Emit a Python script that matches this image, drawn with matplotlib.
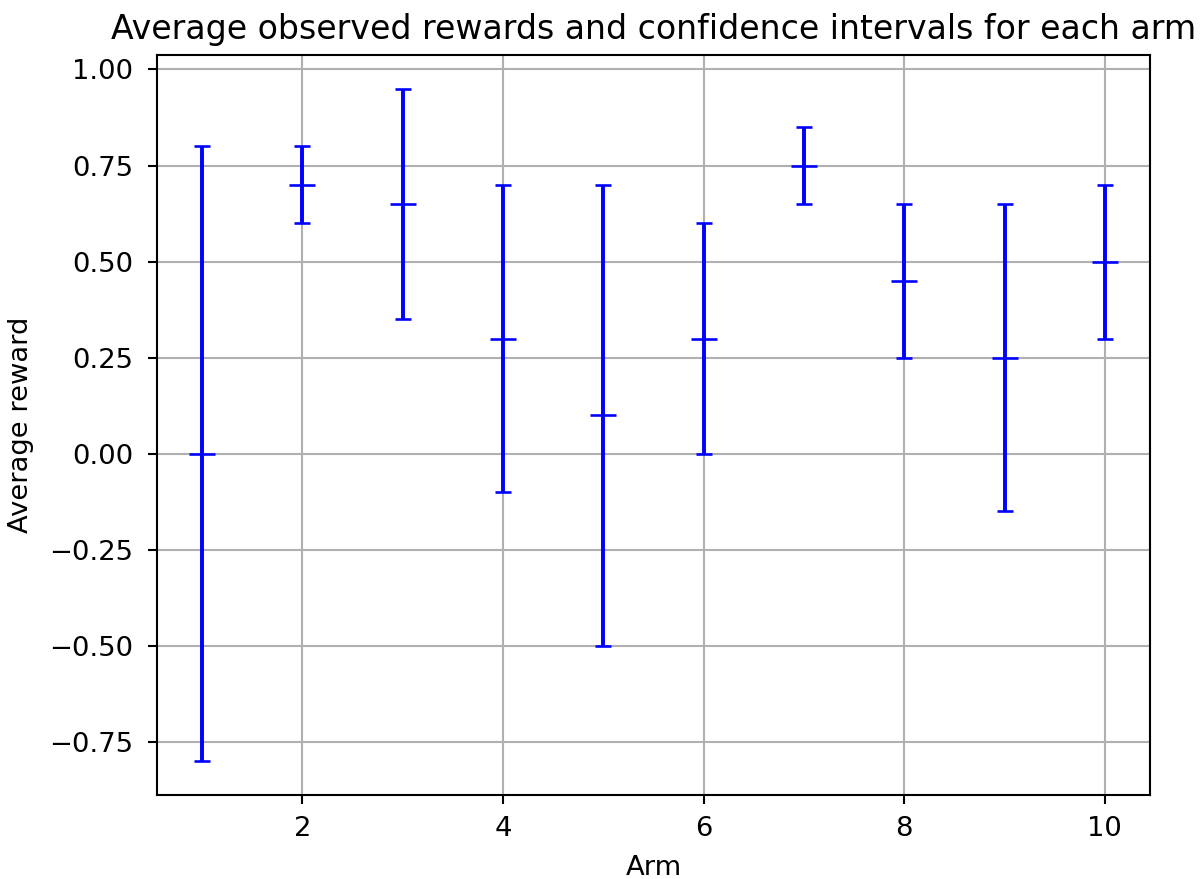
import matplotlib
matplotlib.use("Agg")
import matplotlib.pyplot as plt
import numpy as np

arms = [1, 2, 3, 4, 5, 6, 7, 8, 9, 10]
avg_rewards = [0.0, 0.7, 0.65, 0.3, 0.1, 0.3, 0.75, 0.45, 0.25, 0.5]
lower_bounds = [-0.8, 0.6, 0.35, -0.1, -0.5, 0.0, 0.65, 0.25, -0.15, 0.3]
upper_bounds = [0.8, 0.8, 0.95, 0.7, 0.7, 0.6, 0.85, 0.65, 0.65, 0.7]

plt.rcParams['font.size'] = 10.5

dpi = 188
fig = plt.figure(figsize=(1204 / dpi, 879 / dpi), dpi=dpi)
ax = fig.add_axes([157 / 1204, 1 - 795 / 879, (1150 - 157) / 1204, (795 - 55) / 879])

m = np.array(avg_rewards)
yerr = [m - np.array(lower_bounds), np.array(upper_bounds) - m]
ax.errorbar(arms, avg_rewards, yerr=yerr, fmt='_', color='blue', ecolor='blue',
            markersize=10, capsize=3)
ax.set_title('Average observed rewards and confidence intervals for each arm',
             fontsize=12.7)
ax.set_xlabel('Arm', labelpad=5)
ax.set_ylabel('Average reward', labelpad=6)
ax.tick_params(axis='y', pad=5.5)
ax.tick_params(axis='x', pad=4.5)
ax.grid(True)

fig.savefig('out.png', dpi=dpi)
